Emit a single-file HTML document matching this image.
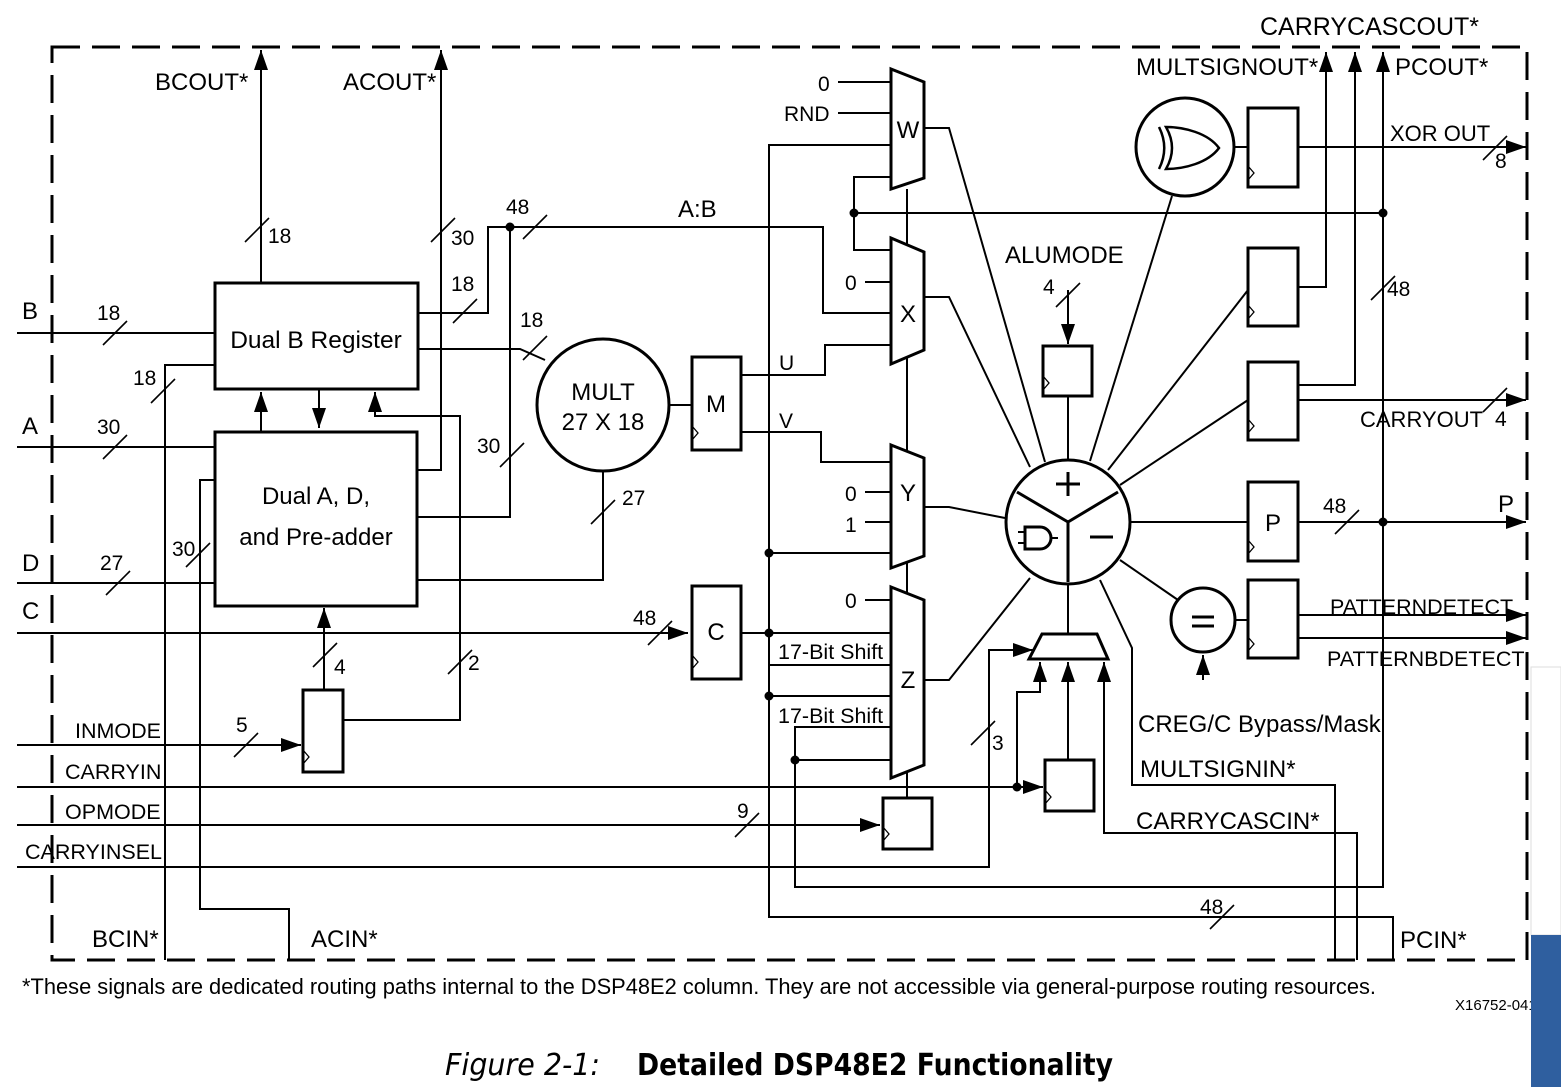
<!DOCTYPE html>
<html><head><meta charset="utf-8"><style>
html,body{margin:0;padding:0;background:#fff;width:1561px;height:1087px;overflow:hidden}
svg{display:block}
text{font-family:"Liberation Sans",Arial,sans-serif;fill:#000}
</style></head><body>
<svg width="1561" height="1087" viewBox="0 0 1561 1087" xmlns="http://www.w3.org/2000/svg">
<defs>
<marker id="A" viewBox="0 0 20 14" refX="20" refY="7" markerWidth="20" markerHeight="14" orient="auto" markerUnits="userSpaceOnUse"><path d="M0,0 L20,7 L0,14 z" fill="#000"/></marker>
</defs>
<rect x="52" y="47" width="1475" height="913" fill="none" stroke="#000" stroke-width="3" stroke-dasharray="28,12"/>

<g fill="none" stroke="#000" stroke-width="2">
<line x1="17" y1="333" x2="215" y2="333"/>
<line x1="17" y1="447" x2="215" y2="447"/>
<line x1="17" y1="583" x2="215" y2="583"/>
<line x1="17" y1="633" x2="688" y2="633" marker-end="url(#A)"/>
<line x1="17" y1="745" x2="301" y2="745" marker-end="url(#A)"/>
<line x1="17" y1="787" x2="1043" y2="787" marker-end="url(#A)"/>
<line x1="17" y1="825" x2="880" y2="825" marker-end="url(#A)"/>
<polyline points="17,867 989,867 989,650 1033,650" marker-end="url(#A)"/>
<polyline points="215,365 165,365 165,960"/>
<polyline points="215,480 200,480 200,909 289,909 289,960"/>
<line x1="261" y1="283" x2="261" y2="50" marker-end="url(#A)"/>
<polyline points="418,313 488,313 488,227 823,227 823,313 891,313"/>
<polyline points="418,349 520,349 545,360"/>
<line x1="261" y1="432" x2="261" y2="392" marker-end="url(#A)"/>
<line x1="319" y1="389" x2="319" y2="428" marker-end="url(#A)"/>
<polyline points="343,720 460,720 460,416 375,416 375,392" marker-end="url(#A)"/>
<polyline points="417,470 441,470 441,50" marker-end="url(#A)"/>
<polyline points="417,517 510,517 510,227"/>
<polyline points="417,580 603,580 603,472"/>
<line x1="324" y1="690" x2="324" y2="608" marker-end="url(#A)"/>
<line x1="669" y1="405" x2="692" y2="405"/>
<polyline points="741,375 825,375 825,345 891,345"/>
<polyline points="741,432 821,432 821,462 891,462"/>
<line x1="838" y1="82" x2="891" y2="82"/>
<line x1="838" y1="113" x2="891" y2="113"/>
<polyline points="891,145 769,145 769,917 1393,917 1393,960"/>
<polyline points="891,177 854,177 854,250 891,250"/>
<line x1="854" y1="213" x2="1383" y2="213"/>
<line x1="865" y1="282" x2="891" y2="282"/>
<line x1="865" y1="492" x2="891" y2="492"/>
<line x1="865" y1="522" x2="891" y2="522"/>
<line x1="769" y1="553" x2="891" y2="553"/>
<line x1="741" y1="633" x2="891" y2="633"/>
<line x1="865" y1="600" x2="891" y2="600"/>
<line x1="769" y1="665" x2="891" y2="665"/>
<line x1="769" y1="696" x2="891" y2="696"/>
<polyline points="891,727 795,727 795,887 1383,887 1383,52" marker-end="url(#A)"/>
<line x1="795" y1="760" x2="891" y2="760"/>
<line x1="907" y1="189" x2="907" y2="798"/>
<polyline points="924,128 949,128 1045,462"/>
<polyline points="924,297 949,297 1030,467"/>
<polyline points="924,507 949,507 1005,518"/>
<polyline points="924,680 949,680 1030,578"/>
<line x1="1068" y1="396" x2="1068" y2="459"/>
<line x1="1068" y1="290" x2="1068" y2="344" marker-end="url(#A)"/>
<line x1="1172" y1="196" x2="1090" y2="461"/>
<line x1="1248" y1="290" x2="1108" y2="470"/>
<line x1="1248" y1="400" x2="1120" y2="485"/>
<line x1="1131" y1="522" x2="1248" y2="522"/>
<line x1="1120" y1="560" x2="1178" y2="600"/>
<line x1="1068" y1="585" x2="1068" y2="634"/>
<polyline points="1100,580 1132,648 1132,785 1335,785 1335,960"/>
<polyline points="1017,787 1017,692 1040,692 1040,662" marker-end="url(#A)"/>
<line x1="1068" y1="760" x2="1068" y2="662" marker-end="url(#A)"/>
<polyline points="1357,960 1357,833 1104,833 1104,662" marker-end="url(#A)"/>
<line x1="1203" y1="680" x2="1203" y2="655" marker-end="url(#A)"/>
<line x1="1235" y1="147" x2="1248" y2="147"/>
<line x1="1298" y1="147" x2="1526" y2="147" marker-end="url(#A)"/>
<polyline points="1298,287 1326,287 1326,52" marker-end="url(#A)"/>
<polyline points="1298,385 1355,385 1355,52" marker-end="url(#A)"/>
<line x1="1298" y1="400" x2="1526" y2="400" marker-end="url(#A)"/>
<line x1="1298" y1="522" x2="1526" y2="522" marker-end="url(#A)"/>
<line x1="1235" y1="620" x2="1248" y2="620"/>
<line x1="1298" y1="615" x2="1526" y2="615" marker-end="url(#A)"/>
<line x1="1298" y1="638" x2="1526" y2="638" marker-end="url(#A)"/>
<g stroke-width="1.6">
<line x1="103" y1="345" x2="127" y2="321"/>
<line x1="151" y1="403" x2="175" y2="379"/>
<line x1="103" y1="459" x2="127" y2="435"/>
<line x1="186" y1="567" x2="210" y2="543"/>
<line x1="106" y1="595" x2="130" y2="571"/>
<line x1="234" y1="757" x2="258" y2="733"/>
<line x1="245" y1="242" x2="269" y2="218"/>
<line x1="431" y1="242" x2="455" y2="218"/>
<line x1="453" y1="323" x2="477" y2="299"/>
<line x1="523" y1="239" x2="547" y2="215"/>
<line x1="523" y1="360" x2="547" y2="336"/>
<line x1="500" y1="467" x2="524" y2="443"/>
<line x1="591" y1="524" x2="615" y2="500"/>
<line x1="313" y1="667" x2="337" y2="643"/>
<line x1="448" y1="674" x2="472" y2="650"/>
<line x1="648" y1="645" x2="672" y2="621"/>
<line x1="735" y1="837" x2="759" y2="813"/>
<line x1="971" y1="745" x2="995" y2="721"/>
<line x1="1056" y1="307" x2="1080" y2="283"/>
<line x1="1371" y1="300" x2="1395" y2="276"/>
<line x1="1335" y1="534" x2="1359" y2="510"/>
<line x1="1483" y1="160" x2="1507" y2="136"/>
<line x1="1483" y1="412" x2="1507" y2="388"/>
<line x1="1210" y1="929" x2="1234" y2="905"/>
</g>
</g>

<g fill="#000">
<circle cx="510" cy="227" r="4.5"/><circle cx="854" cy="213" r="4.5"/>
<circle cx="1383" cy="213" r="4.5"/><circle cx="1383" cy="522" r="4.5"/>
<circle cx="769" cy="553" r="4.5"/><circle cx="769" cy="633" r="4.5"/>
<circle cx="769" cy="696" r="4.5"/><circle cx="795" cy="760" r="4.5"/>
<circle cx="1017" cy="787" r="4.5"/>
</g>

<g fill="#fff" stroke="#000" stroke-width="3">
<rect x="215" y="283" width="203" height="106"/>
<rect x="215" y="432" width="202" height="174"/>
<circle cx="603" cy="405" r="66"/>
<rect x="692" y="357" width="49" height="93"/>
<rect x="692" y="586" width="49" height="93"/>
<rect x="303" y="690" width="40" height="82"/>
<rect x="883" y="798" width="49" height="51"/>
<rect x="1045" y="760" width="49" height="51"/>
<rect x="1043" y="346" width="49" height="50"/>
<rect x="1248" y="108" width="50" height="79"/>
<rect x="1248" y="248" width="50" height="78"/>
<rect x="1248" y="362" width="50" height="78"/>
<rect x="1248" y="482" width="50" height="79"/>
<rect x="1248" y="580" width="50" height="78"/>
<circle cx="1185" cy="147" r="49"/>
<circle cx="1203" cy="620" r="32"/>
<circle cx="1068" cy="522" r="62"/>
<polygon points="891,69 924,82 924,178 891,189"/>
<polygon points="891,238 924,252 924,350 891,364"/>
<polygon points="891,445 924,458 924,556 891,568"/>
<polygon points="891,587 924,600 924,765 891,778"/>
<polygon points="1042,634 1097,634 1108,659 1029,659"/>
</g>
<g fill="none" stroke="#000" stroke-width="1.3">
<polyline points="692,426 698,433 692,440"/><polyline points="692,655 698,662 692,669"/>
<polyline points="303,750 309,757 303,764"/><polyline points="883,827 889,834 883,841"/>
<polyline points="1045,790 1051,797 1045,804"/><polyline points="1043,376 1049,383 1043,390"/>
<polyline points="1248,166 1254,173 1248,180"/><polyline points="1248,305 1254,312 1248,319"/>
<polyline points="1248,419 1254,426 1248,433"/><polyline points="1248,540 1254,547 1248,554"/>
<polyline points="1248,637 1254,644 1248,651"/>
</g>
<g fill="none" stroke="#000" stroke-width="3">
<line x1="1068" y1="522" x2="1068" y2="582"/>
<line x1="1068" y1="522" x2="1017" y2="492"/>
<line x1="1068" y1="522" x2="1118" y2="492"/>
<line x1="1056" y1="484" x2="1080" y2="484"/><line x1="1068" y1="472" x2="1068" y2="496"/>
<line x1="1090" y1="537" x2="1113" y2="537"/>
<path d="M1025,527 h15 a11,11 0 0 1 0,22 h-15 z"/>
<line x1="1018" y1="532" x2="1025" y2="532" stroke-width="2"/><line x1="1018" y1="543" x2="1025" y2="543" stroke-width="2"/>
<line x1="1051" y1="538" x2="1058" y2="538" stroke-width="2"/>
<path d="M1166,127 C1184,127 1208,133 1219,148 C1208,163 1184,169 1166,169 C1174,155 1174,141 1166,127 z" stroke-width="2.5"/>
<path d="M1159,127 C1166,141 1166,155 1159,169" stroke-width="2.5"/>
<line x1="1192" y1="617" x2="1214" y2="617"/><line x1="1192" y1="626" x2="1214" y2="626"/>
</g>

<g font-size="24">
<text x="1260" y="35" font-size="25">CARRYCASCOUT*</text>
<text x="1136" y="75">MULTSIGNOUT*</text>
<text x="1395" y="75">PCOUT*</text>
<text x="155" y="90">BCOUT*</text>
<text x="343" y="90">ACOUT*</text>
<text x="22" y="319">B</text><text x="22" y="434">A</text><text x="22" y="571">D</text><text x="22" y="619">C</text>
<text x="75" y="738" font-size="21.5">INMODE</text>
<text x="65" y="779" font-size="21.5">CARRYIN</text>
<text x="65" y="819" font-size="21.5">OPMODE</text>
<text x="25" y="859" font-size="21.5">CARRYINSEL</text>
<text x="92" y="947">BCIN*</text>
<text x="311" y="947">ACIN*</text>
<text x="1400" y="948">PCIN*</text>
<text x="316" y="348" text-anchor="middle" font-size="24.5">Dual B Register</text>
<text x="316" y="504" text-anchor="middle">Dual A, D,</text>
<text x="316" y="545" text-anchor="middle">and Pre-adder</text>
<text x="603" y="400" text-anchor="middle">MULT</text>
<text x="603" y="430" text-anchor="middle">27 X 18</text>
<text x="716" y="412" text-anchor="middle">M</text>
<text x="716" y="640" text-anchor="middle">C</text>
<text x="908" y="138" text-anchor="middle">W</text>
<text x="908" y="322" text-anchor="middle">X</text>
<text x="908" y="501" text-anchor="middle">Y</text>
<text x="908" y="688" text-anchor="middle">Z</text>
<text x="1273" y="531" text-anchor="middle">P</text>
<text x="818" y="91" font-size="21">0</text>
<text x="784" y="121" font-size="21">RND</text>
<text x="845" y="290" font-size="21">0</text>
<text x="845" y="501" font-size="21">0</text>
<text x="845" y="532" font-size="21">1</text>
<text x="845" y="608" font-size="21">0</text>
<text x="778" y="659" font-size="21.5">17-Bit Shift</text>
<text x="778" y="723" font-size="21.5">17-Bit Shift</text>
<text x="678" y="217">A:B</text>
<text x="779" y="370" font-size="21">U</text>
<text x="779" y="428" font-size="21">V</text>
<text x="1005" y="263">ALUMODE</text>
<text x="1390" y="141" font-size="22">XOR OUT</text>
<text x="1360" y="427" font-size="22">CARRYOUT</text>
<text x="1498" y="512">P</text>
<text x="1330" y="614" font-size="21.5">PATTERNDETECT</text>
<text x="1327" y="666" font-size="21.5">PATTERNBDETECT</text>
<text x="1138" y="732">CREG/C Bypass/Mask</text>
<text x="1140" y="777">MULTSIGNIN*</text>
<text x="1136" y="829">CARRYCASCIN*</text>
</g>
<g font-size="21">
<text x="97" y="320">18</text><text x="133" y="385">18</text><text x="97" y="434">30</text>
<text x="172" y="556">30</text><text x="100" y="570">27</text><text x="236" y="732">5</text>
<text x="268" y="243">18</text><text x="451" y="245">30</text><text x="451" y="291">18</text>
<text x="506" y="214">48</text><text x="520" y="327">18</text><text x="477" y="453">30</text>
<text x="622" y="505">27</text><text x="334" y="674">4</text><text x="468" y="670">2</text>
<text x="633" y="625">48</text><text x="737" y="818">9</text><text x="992" y="750">3</text>
<text x="1043" y="294">4</text><text x="1387" y="296">48</text><text x="1323" y="513">48</text>
<text x="1495" y="168">8</text><text x="1495" y="426">4</text><text x="1200" y="914">48</text>
</g>
<text x="22" y="994" font-size="21.8" textLength="1354" lengthAdjust="spacingAndGlyphs">*These signals are dedicated routing paths internal to the DSP48E2 column. They are not accessible via general-purpose routing resources.</text>
<text x="1455" y="1010" font-size="15">X16752-041</text>
<text x="445" y="1075" font-size="30" font-style="italic" textLength="155" lengthAdjust="spacingAndGlyphs" style="font-family:'DejaVu Sans','Liberation Sans',sans-serif" fill="#222">Figure 2-1:</text>
<text x="637" y="1075" font-size="30" font-weight="bold" textLength="476" lengthAdjust="spacingAndGlyphs" style="font-family:'DejaVu Sans','Liberation Sans',sans-serif">Detailed DSP48E2 Functionality</text>
<rect x="1531" y="667" width="30" height="268" fill="#fff" stroke="#ddd"/>
<rect x="1531" y="935" width="30" height="152" fill="#2f5f9f"/>
</svg>
</body></html>
